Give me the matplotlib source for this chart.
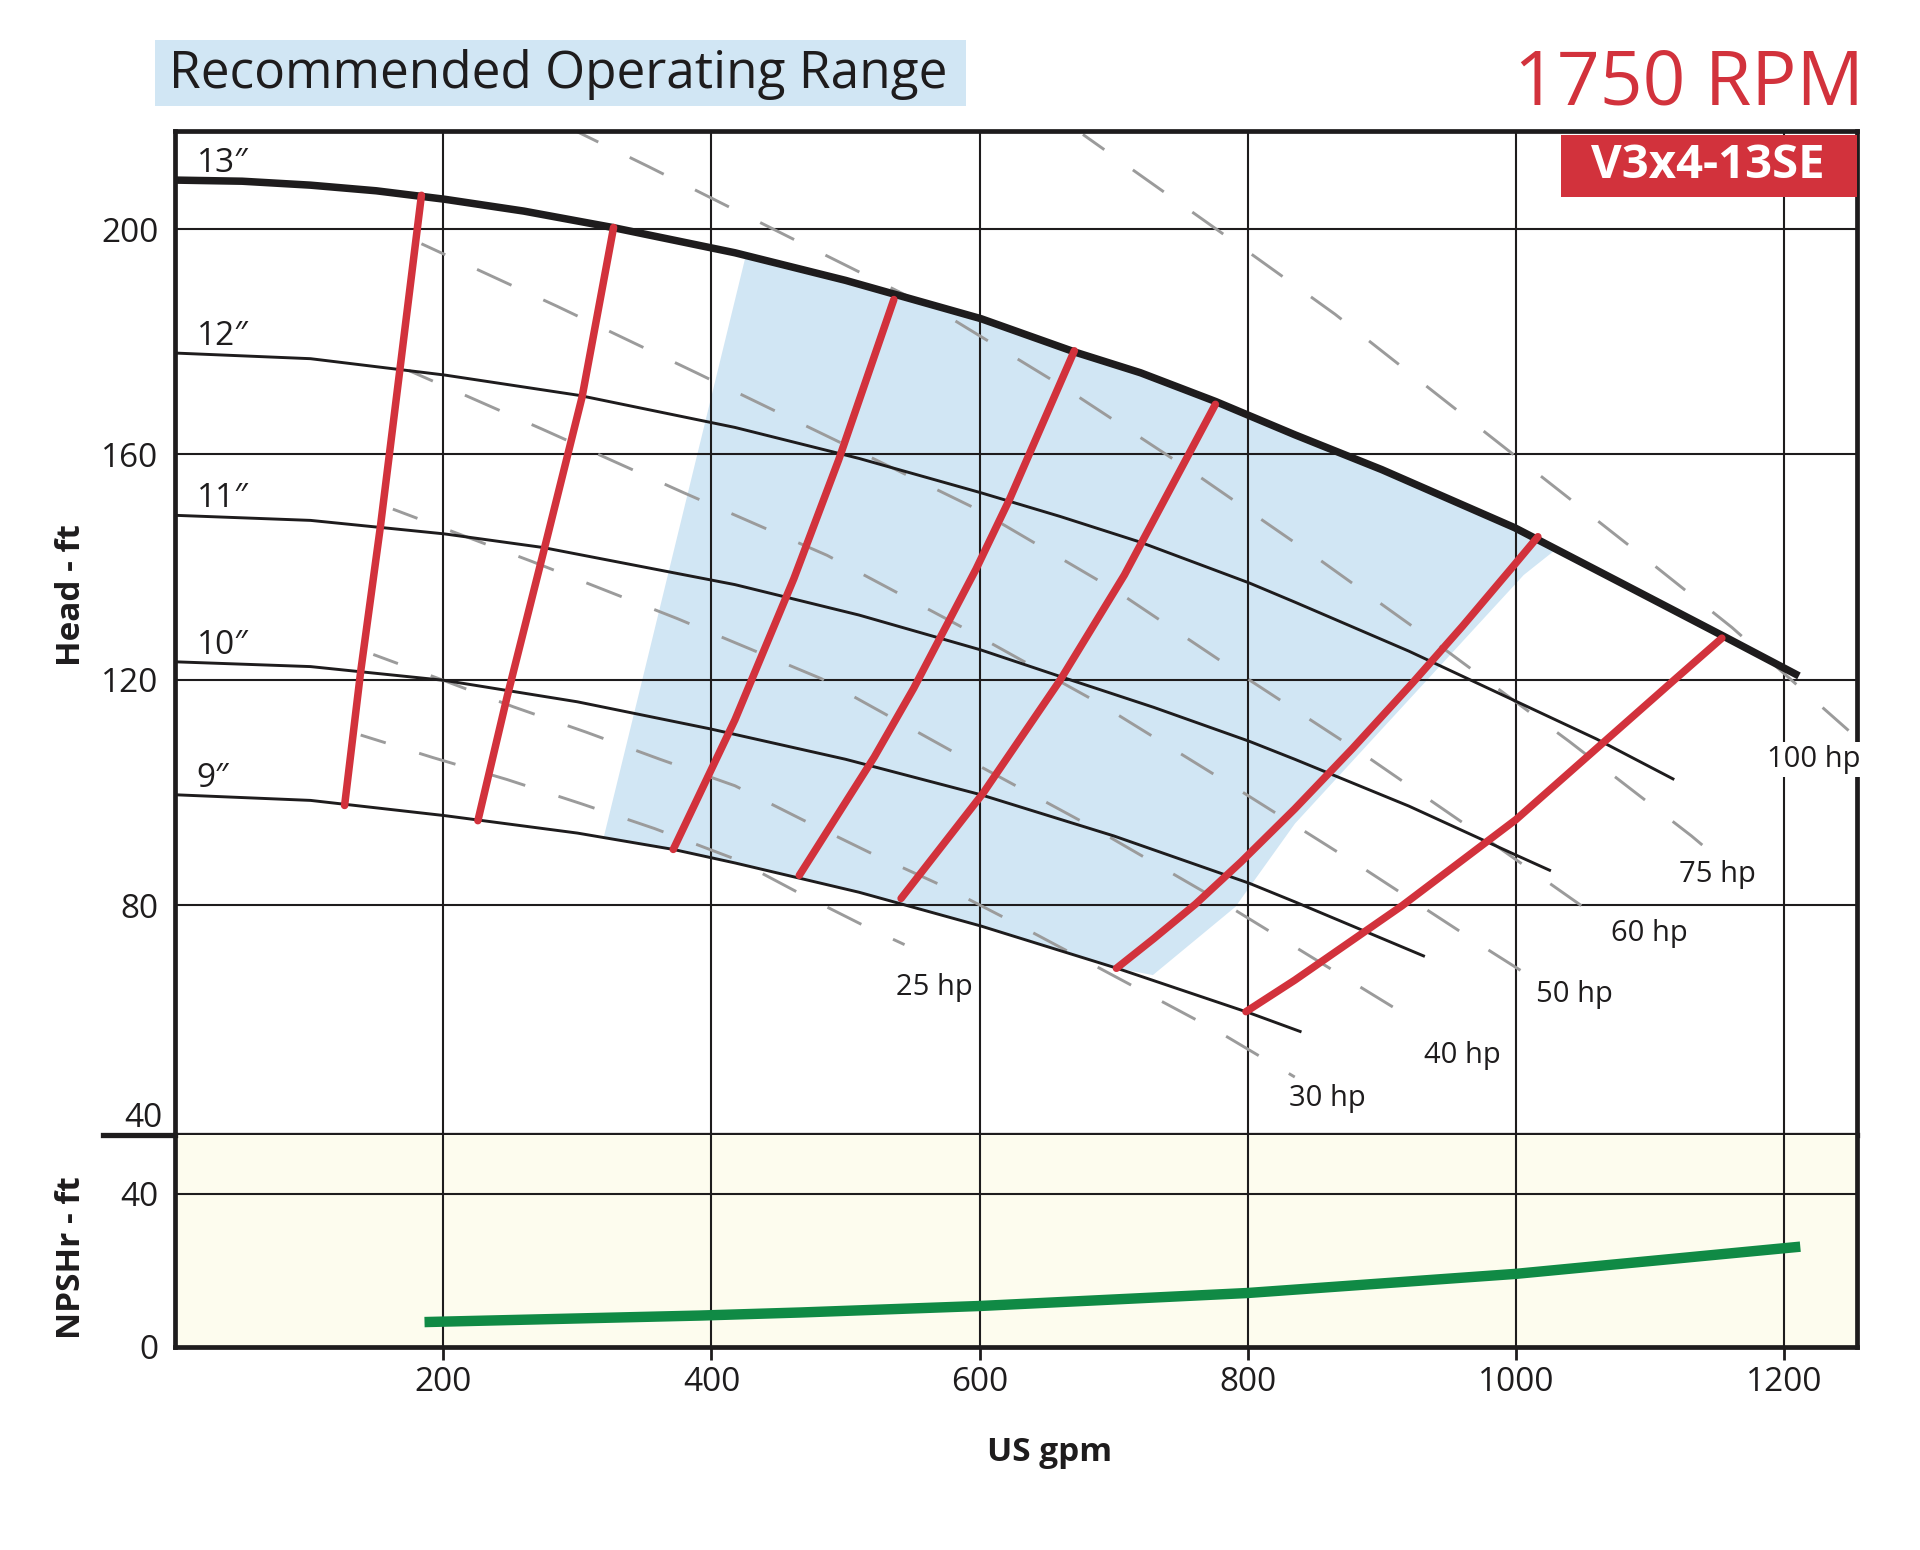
import matplotlib
matplotlib.use("Agg")
import matplotlib.pyplot as plt
import matplotlib.transforms as mtransforms
from matplotlib.patches import Rectangle, Polygon
from matplotlib.lines import Line2D

plt.rcParams['font.family'] = ['Open Sans', 'DejaVu Sans']

# impeller curves (US gpm, head ft)
d13_q = [0, 50, 101, 150, 201, 260, 326, 417.5, 500, 601, 672, 720, 776, 835, 900, 999, 1080, 1153.5, 1211]
d13_h = [208.7, 208.5, 207.8, 206.8, 205.3, 203.2, 200.3, 195.8, 190.9, 184.1, 178.1, 174.5, 169.4, 163.5,
         157.3, 147.0, 137.0, 127.9, 120.7]
d12_q = [0, 101, 201, 301, 417.5, 510, 601, 660, 719, 801, 835, 920, 999, 1060, 1118]
d12_h = [178.0, 177.0, 174.1, 170.5, 164.8, 159.3, 153.2, 149.0, 144.5, 137.2, 133.8, 125.1, 116.3, 109.5, 102.3]
d11_q = [0, 101, 201, 274, 417.5, 510, 601, 665, 730, 801, 835, 920, 999, 1026]
d11_h = [149.2, 148.3, 145.9, 143.5, 136.9, 131.5, 125.3, 120.2, 115.1, 109.1, 105.9, 97.6, 89.0, 86.1]
d10_q = [0, 101, 201, 300, 399, 500, 601, 700, 801, 835, 932]
d10_h = [123.2, 122.35, 119.9, 116.1, 111.3, 105.9, 99.6, 92.3, 83.9, 80.6, 70.9]
d9_q = [0, 101, 201, 300, 371.5, 417.5, 510, 601, 702.5, 801, 840]
d9_h = [99.6, 98.6, 95.9, 92.8, 89.9, 87.5, 82.3, 76.3, 68.8, 60.9, 57.5]
diam_curves = [("13\u2033", d13_q, d13_h), ("12\u2033", d12_q, d12_h), ("11\u2033", d11_q, d11_h),
               ("10\u2033", d10_q, d10_h), ("9\u2033", d9_q, d9_h)]

# efficiency lines (red)
eff_lines = [
    ([126.4, 138.4, 153.1, 167.7, 183.7], [97.7, 121.5, 147.2, 175.2, 206.0]),
    ([225.8, 247.6, 275.6, 303.5, 327], [95.0, 117.0, 143.5, 170.2, 200.3]),
    ([371.5, 417.5, 461.5, 494.8, 536], [89.9, 112.9, 138.0, 159.0, 187.5]),
    ([465.5, 521.4, 550.8, 597.4, 622.6, 670.6], [85.3, 106.3, 118.5, 139.7, 152.2, 178.4]),
    ([541.4, 602.6, 659.9, 707.9, 775.8], [81.2, 99.9, 119.9, 138.6, 168.9]),
    ([702, 730, 761, 795, 835, 878, 923, 960, 998, 1016.3],
     [68.8, 74.1, 80.2, 87.7, 97.1, 107.8, 119.5, 129.5, 140.2, 145.4]),
    ([798.6, 835, 915, 1000, 1117.6, 1153.5], [61.1, 66.7, 79.9, 95.2, 119.9, 127.4]),
]

# power lines (gray dashed)
hp_lines = {
    "25 hp": ([138.4, 192.3, 247.6, 303, 357.6, 417.5, 464.2, 516, 544],
              [110.2, 106.2, 102.3, 98.0, 93.6, 88.2, 82.3, 76.1, 73.0]),
    "30 hp": ([147.8, 200.2, 252.4, 306.7, 361.6, 417.5, 467.6, 520.1, 572.6, 624, 675.4, 726.5, 777.7, 835],
              [124.5, 119.9, 115.2, 110.7, 105.9, 101.2, 95.2, 89.1, 83.4, 77.1, 70.6, 64.1, 57.6, 49.5]),
    "40 hp": ([162.4, 266.2, 374.2, 482, 582.7, 685.2, 784.5, 883.7, 911.1],
              [150.3, 141.0, 130.9, 120.2, 106.9, 93.7, 80.0, 65.5, 61.5]),
    "50 hp": ([174.3, 273.7, 379.4, 486.2, 588, 688.7, 787.8, 885.8, 981.7, 1008.9],
              [174.9, 164.5, 153.2, 142.1, 129.2, 115.9, 101.3, 86.6, 71.7, 67.6]),
    "60 hp": ([183.7, 284.9, 389.6, 498, 598.7, 702.5, 795.2, 891.7, 984.3, 1059],
              [197.4, 186.3, 174.4, 161.9, 150.2, 135.7, 120.9, 105.9, 90.7, 78.2]),
    "75 hp": ([298, 353, 457, 575, 663, 757, 853, 949.7, 1039.5, 1130.8, 1142.8],
              [217.5, 211.1, 198.7, 184.7, 171.9, 157.2, 141.4, 124.9, 109.1, 92.3, 89.9]),
    "100 hp": ([677, 796, 865, 1092, 1161, 1248],
               [216.8, 196.7, 184.9, 142.4, 129.3, 111.0]),
}
hp_label_q = [537.4, 831, 931.1, 1015, 1071, 1121.5, 1186.8]
hp_label_h = [64.1, 44.4, 52.0, 62.8, 73.6, 84.1, 104.6]

# recommended operating range edges
ror_left_q = [425.5, 348.3, 319.6]
ror_left_h = [195.2, 119.9, 92.0]
ror_right_q = [729.2, 790.7, 835.2, 1005.7, 1030]
ror_right_h = [67.6, 79.7, 94.5, 138.6, 143.2]

# NPSHr
npsh_q = [186, 391, 466, 600, 800, 1000, 1200, 1212]
npsh_h = [6.5, 8.2, 9.0, 10.7, 14.1, 19.1, 25.8, 26.2]

x_ticks = [200, 400, 600, 800, 1000, 1200]
head_ticks = [80, 120, 160, 200]
npsh_ticks = [0, 40]

RED = '#d2323c'
BLUE = '#d1e6f4'
INK = '#1e1c1d'
GRAY = '#9b9b9b'

fig = plt.figure(figsize=(19.2, 15.5), dpi=100)
ax = fig.add_axes([0.0912, 0.2677, 0.8760, 0.6481])
ax2 = fig.add_axes([0.0912, 0.1310, 0.8760, 0.1368], sharex=ax)

ax.set_xlim(0, 1254.3)
ax.set_ylim(39.2, 217.5)
ax2.set_ylim(0, 55.4)

for a in (ax, ax2):
    a.set_axisbelow(True)
    a.grid(True, color=INK, lw=1.5)
    for s in a.spines.values():
        s.set_color(INK)
        s.set_linewidth(3.4)
ax.spines['bottom'].set_linewidth(3.8)
ax2.spines['top'].set_visible(False)

ax.set_xticks(x_ticks)
ax.set_yticks(head_ticks)
ax2.set_yticks(npsh_ticks)
ax2.set_facecolor('#fdfcee')

ax.tick_params(axis='x', length=0, labelbottom=False)
ax.tick_params(axis='y', length=0, pad=12, labelsize=24, labelcolor=INK)
ax2.tick_params(axis='y', length=0, pad=12, labelsize=24, labelcolor=INK)
ax2.tick_params(axis='x', length=9, width=2, color=INK, pad=5, labelsize=24, labelcolor=INK)
ax2.yaxis.get_gridlines()[0].set_visible(False)

# "40" at the bottom of the head axis sits above the line
trans = mtransforms.blended_transform_factory(ax.transAxes, ax.transData)
ax.text(-0.0075, 39.2, "40", transform=trans, ha='right', va='bottom', fontsize=24, color=INK)

# operating range fill
poly_q = ror_left_q[-1:] + [q for q in d9_q if ror_left_q[-1] < q < ror_right_q[0]] + ror_right_q \
    + [q for q in d13_q[::-1] if ror_left_q[0] < q < ror_right_q[-1]] + ror_left_q[:-1]
poly_h = ror_left_h[-1:] + [h for q, h in zip(d9_q, d9_h) if ror_left_q[-1] < q < ror_right_q[0]] + ror_right_h \
    + [h for q, h in zip(d13_q[::-1], d13_h[::-1]) if ror_left_q[0] < q < ror_right_q[-1]] + ror_left_h[:-1]
ax.add_patch(Polygon(list(zip(poly_q, poly_h)), closed=True, facecolor=BLUE, edgecolor='none', zorder=0.2))

for name, (q, h) in hp_lines.items():
    ax.plot(q, h, color=GRAY, lw=2.1, linestyle=(4, (13, 12)), zorder=2)

for lbl, q, h in diam_curves:
    ax.plot(q, h, color=INK, lw=5.4 if lbl.startswith("13") else 2.1, zorder=3,
            solid_capstyle='butt', solid_joinstyle='round')
    ax.annotate(lbl, (16, h[0]), xytext=(0, 8), textcoords='offset pixels',
                fontsize=24, va='baseline', ha='left', color=INK)

for q, h in eff_lines:
    ax.plot(q, h, color=RED, lw=5.4, zorder=4, solid_capstyle='round', solid_joinstyle='round')

for (name, _), q, h in zip(hp_lines.items(), hp_label_q, hp_label_h):
    t = ax.text(q, h, name, fontsize=21, va='baseline', ha='left', color=INK, zorder=6)
    if name == "100 hp":
        t.set_bbox(dict(facecolor='white', edgecolor='none', pad=2))

# model tag
ax.add_patch(Rectangle((0.824, 0.9338), 0.176, 0.0621, transform=ax.transAxes,
                       facecolor=RED, edgecolor='none', zorder=5, clip_on=False))
ax.text(0.9115, 0.9647, "V3x4-13SE", transform=ax.transAxes, ha='center', va='center',
        fontsize=34, fontweight='bold', color='white', zorder=6)

ax2.plot(npsh_q, npsh_h, color='#108a45', lw=7.5, solid_capstyle='butt', solid_joinstyle='round', zorder=3)

# separator extends to the left
fig.add_artist(Line2D([103 / 1920, 0.0912], [0.2677, 0.2677], transform=fig.transFigure,
                      color=INK, lw=3.8))

# header
fig.add_artist(Rectangle((0.0807, 0.9316), 0.4224, 0.0426, transform=fig.transFigure,
                         facecolor=BLUE, edgecolor='none'))
fig.text(0.088, 0.9432, "Recommended Operating Range", fontsize=37, color=INK,
         ha='left', va='baseline')
fig.text(0.9706, 0.9329, "1750 RPM", fontsize=54, color=RED, ha='right', va='baseline')

fig.text(0.0375, 0.616, "Head - ft", rotation=90, fontsize=24, fontweight='bold',
         ha='center', va='center', color=INK)
fig.text(0.0375, 0.1884, "NPSHr - ft", rotation=90, fontsize=24, fontweight='bold',
         ha='center', va='center', color=INK)
fig.text(0.5464, 0.0632, "US gpm", fontsize=24, fontweight='bold',
         ha='center', va='center', color=INK)

fig.savefig("out.png", dpi=100, facecolor='white')
